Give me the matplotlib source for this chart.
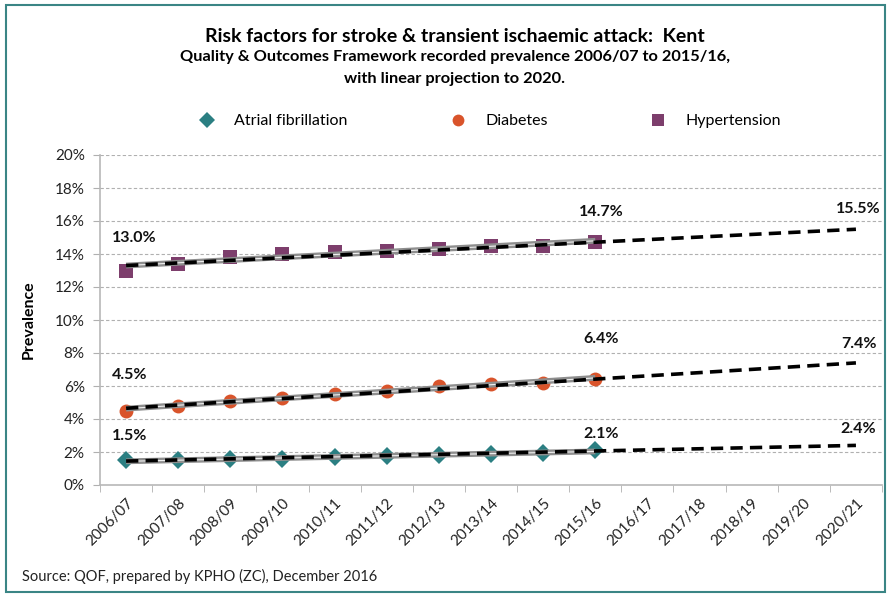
import numpy as np
import matplotlib
matplotlib.use("Agg")
import matplotlib.pyplot as plt
from matplotlib.patches import Rectangle

plt.rcParams['font.family'] = ['Lato', 'DejaVu Sans']

years = ["2006/07", "2007/08", "2008/09", "2009/10", "2010/11", "2011/12",
         "2012/13", "2013/14", "2014/15", "2015/16", "2016/17", "2017/18",
         "2018/19", "2019/20", "2020/21"]

# QOF recorded prevalence (%), 2006/07 to 2015/16
af = [1.5, 1.5, 1.55, 1.6, 1.7, 1.75, 1.8, 1.9, 1.95, 2.1]
diabetes = [4.5, 4.8, 5.1, 5.3, 5.5, 5.7, 6.0, 6.1, 6.2, 6.4]
hypertension = [13.0, 13.4, 13.8, 14.0, 14.1, 14.2, 14.3, 14.5, 14.5, 14.7]

# Linear projection: value at 2006/07 and projected value at 2020/21 (%)
af_proj = [1.45, 2.4]
diabetes_proj = [4.65, 7.4]
hypertension_proj = [13.3, 15.5]

# (name, values, projection, colour, marker, size,
#  label lift above first / last / projected point)
series = [
    ("Atrial fibrillation", af, af_proj, "#2b7f82", "D", 9.5, (1.5, 1.0, 1.0)),
    ("Diabetes", diabetes, diabetes_proj, "#d9542b", "o", 10.0, (2.15, 2.45, 1.15)),
    ("Hypertension", hypertension, hypertension_proj, "#7d3e6c", "s", 9.5, (2.0, 1.85, 1.2)),
]

fig = plt.figure(figsize=(8.9, 5.97), dpi=100)
ax = fig.add_axes([100 / 890, 1 - 485 / 597, 782 / 890, 330 / 597])

x_obs = np.arange(len(af))
x_end = len(years) - 1

for name, vals, proj, col, mk, ms, lift in series:
    ax.plot(x_obs, vals, linestyle="none", marker=mk, markersize=ms,
            color=col, markeredgewidth=0, zorder=3, label=name)
    # least-squares trend over observed years
    k, b = np.polyfit(x_obs, vals, 1)
    tx = np.array([x_obs[0], x_obs[-1]])
    ax.plot(tx, k * tx + b, color="#8e8e8e", lw=4.2, solid_capstyle="butt",
            zorder=4)
    ax.plot(tx, k * tx + b, color="#f0f0f0", lw=0.8, solid_capstyle="butt",
            zorder=4.5)
    # projection to 2020/21
    ax.plot([0, x_end], proj, color="black", lw=2.6, dashes=(3.4, 2.0),
            zorder=5)
    # value labels
    ax.text(-0.27, vals[0] + lift[0], f"{vals[0]:.1f}%", fontsize=11.5,
            fontweight="bold", ha="left", va="center", color="#111111")
    ax.text(x_obs[-1] + 0.12, vals[-1] + lift[1], f"{vals[-1]:.1f}%",
            fontsize=11.5, fontweight="bold", ha="center", va="center",
            color="#111111")
    ax.text(x_end + 0.05, proj[1] + lift[2], f"{proj[1]:.1f}%", fontsize=11.5,
            fontweight="bold", ha="center", va="center", color="#111111")

ax.set_xlim(-0.5, len(years) - 0.5)
ax.set_ylim(0, 20)
ax.set_yticks(np.arange(0, 21, 2))
ax.set_yticklabels([f"{v}%" for v in range(0, 21, 2)], fontsize=11,
                   color="#222222")
ax.set_xticks(np.arange(len(years)))
ax.set_xticklabels(years, rotation=45, ha="right", rotation_mode="anchor",
                   fontsize=11, color="#222222")
ax.set_xticks(np.arange(len(years) + 1) - 0.5, minor=True)
ax.tick_params(axis="x", which="major", length=0, pad=8)
ax.tick_params(axis="x", which="minor", length=5, color="#b0b0b0",
               direction="out")
ax.tick_params(axis="y", length=5, color="#b0b0b0", pad=6)

ax.grid(axis="y", color="#b0b0b0", linestyle=(0, (3, 2)), lw=0.8)
ax.set_axisbelow(True)
for s in ["top", "right"]:
    ax.spines[s].set_visible(False)
for s in ["left", "bottom"]:
    ax.spines[s].set_color("#b8b8b8")
    ax.spines[s].set_linewidth(1.2)

ax.set_ylabel("Prevalence", fontsize=11.5, fontweight="bold", labelpad=14)

leg = fig.legend(loc="center", bbox_to_anchor=(486 / 890, 1 - 121 / 597),
                 ncol=3, frameon=False, fontsize=11.5, columnspacing=5.9,
                 handletextpad=0.72, markerscale=0.85)

fig.text(455 / 890, 1 - 37 / 597,
         "Risk factors for stroke & transient ischaemic attack:  Kent",
         ha="center", va="center", fontsize=14, fontweight="bold")
fig.text(455 / 890, 1 - 57 / 597,
         "Quality & Outcomes Framework recorded prevalence 2006/07 to 2015/16,",
         ha="center", va="center", fontsize=11.8, fontweight="bold")
fig.text(455 / 890, 1 - 79 / 597, "with linear projection to 2020.",
         ha="center", va="center", fontsize=11.8, fontweight="bold")

fig.text(22 / 890, 1 - 576 / 597,
         "Source: QOF, prepared by KPHO (ZC), December 2016",
         ha="left", va="center", fontsize=10.5, color="#222222")

fig.patches.append(Rectangle((6 / 890, 5 / 597), 879 / 890, 587 / 597,
                             transform=fig.transFigure, fill=False,
                             edgecolor="#3a8585", lw=1.5))

fig.savefig("out.png", dpi=100)
